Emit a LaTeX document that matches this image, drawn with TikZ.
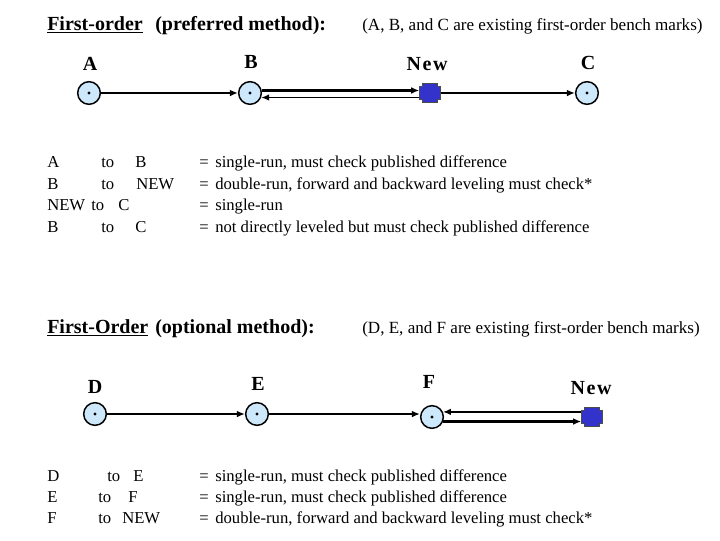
\documentclass[tikz,border=0pt]{standalone}
\usepackage{fontspec}
\setmainfont{Liberation Serif}
\usetikzlibrary{arrows.meta,calc}
\definecolor{bmfill}{RGB}{204,232,250}
\definecolor{newblue}{RGB}{51,51,204}
\begin{document}
\begin{tikzpicture}[x=0.75pt,y=-0.75pt,
  bm/.style={circle,draw=black,line width=1.1pt,fill=bmfill,minimum size=17pt,inner sep=0pt,
    path picture={\fill[black] (path picture bounding box.center) circle (1.2pt);}},
  newbm/.style={rectangle,minimum width=15.75pt,minimum height=14.25pt,inner sep=0pt},
  plusshape/.style={fill=newblue,draw=black!70,line width=0.6pt},
  hdr/.style={font=\bfseries\fontsize{15}{17}\selectfont,anchor=base west,inner sep=0pt},
  hdrr/.style={font=\fontsize{12.8}{15}\selectfont,anchor=base west,inner sep=0pt},
  lbl/.style={font=\bfseries\fontsize{15}{17}\selectfont,inner sep=0pt},
  txt/.style={font=\fontsize{12.5}{14}\selectfont,anchor=base west,inner sep=0pt},
  thinarr/.style={line width=1.2pt,-{Latex[length=6pt,width=5pt]}},
  thickarr/.style={line width=2.1pt,-{Latex[length=6pt,width=5pt]}}
]
\useasboundingbox[fill=white] (0,0) rectangle (720,540);

% ---------- Top section ----------
\node[hdr] (h1a) at (47,30) {\underline{First-order}};
\node[hdr] (h1b) at (155,30) {(preferred method):};
\node[hdrr] (h1c) at (362,30) {(A, B, and C are existing first-order bench marks)};

\node[lbl] (lA) at (90,64) {A};
\node[lbl] (lB) at (251,62) {B};
\node[lbl] (lNew) at (427,64) {N\kern1.2pt e\kern1.2pt w};
\node[lbl] (lC) at (588,63) {C};

\node[bm] (A) at (89,93) {};
\node[bm] (B) at (250,93) {};
\node[newbm] (N1) at (430,93) {};
\node[bm] (C) at (587,93) {};
\fill[plusshape,shift={(N1)}] (-10.5,-6.5) -- (-7.5,-6.5) -- (-7.5,-9.5) -- (7.5,-9.5) -- (7.5,-6.5) -- (10.5,-6.5)
  -- (10.5,6.5) -- (7.5,6.5) -- (7.5,9.5) -- (-7.5,9.5) -- (-7.5,6.5) -- (-10.5,6.5) -- cycle;

\draw[thinarr] (A) -- (B);
\draw[thickarr] (B.12) -- (B.12 -| N1.west);
\draw[thinarr] (B.-22 -| N1.west) -- (B.-22);
\draw[thinarr] (N1) -- (C);

\node[txt] (r1a) at (47,167) {A};
\node[txt] (r1b) at (101,167) {to};
\node[txt] (r1c) at (135,167) {B};
\node[txt] (r1d) at (199,167) {=};
\node[txt] (r1e) at (215,167) {single-run, must check published difference};

\node[txt] (r2a) at (47,189) {B};
\node[txt] (r2b) at (101,189) {to};
\node[txt] (r2c) at (136,189) {NEW};
\node[txt] (r2d) at (199,189) {=};
\node[txt] (r2e) at (215,189) {double-run, forward and backward leveling must check*};

\node[txt] (r3a) at (47,210) {NEW};
\node[txt] (r3b) at (91,210) {to};
\node[txt] (r3c) at (118,210) {C};
\node[txt] (r3d) at (199,210) {=};
\node[txt] (r3e) at (215,210) {single-run};

\node[txt] (r4a) at (47,232) {B};
\node[txt] (r4b) at (101,232) {to};
\node[txt] (r4c) at (135,232) {C};
\node[txt] (r4d) at (199,232) {=};
\node[txt] (r4e) at (215,232) {not directly leveled but must check published difference};

% ---------- Bottom section ----------
\node[hdr] (h2a) at (47,333) {\underline{First-Order}};
\node[hdr] (h2b) at (155,333) {(optional method):};
\node[hdrr] (h2c) at (362,333) {(D, E, and F are existing first-order bench marks)};

\node[lbl] (lD) at (95,387) {D};
\node[lbl] (lE) at (258,384) {E};
\node[lbl] (lF) at (429,382) {F};
\node[lbl] (lNew2) at (591,388) {N\kern1.2pt e\kern1.2pt w};

\node[bm] (D) at (95,414) {};
\node[bm] (E) at (257,414) {};
\node[bm] (F) at (432,417) {};
\node[newbm] (N2) at (592,417) {};
\fill[plusshape,shift={(N2)}] (-10.5,-6.5) -- (-7.5,-6.5) -- (-7.5,-9.5) -- (7.5,-9.5) -- (7.5,-6.5) -- (10.5,-6.5)
  -- (10.5,6.5) -- (7.5,6.5) -- (7.5,9.5) -- (-7.5,9.5) -- (-7.5,6.5) -- (-10.5,6.5) -- cycle;

\draw[thinarr] (D) -- (E);
\draw[thickarr] (E.east) -- (E.east -| F.west);
\draw[thickarr] (F.25 -| N2.west) -- (F.25);
\draw[thickarr] (F.-22) -- (F.-22 -| N2.west);

\node[txt] (s1a) at (47,481) {D};
\node[txt] (s1b) at (107,481) {to};
\node[txt] (s1c) at (133,481) {E};
\node[txt] (s1d) at (199,481) {=};
\node[txt] (s1e) at (215,481) {single-run, must check published difference};

\node[txt] (s2a) at (47,502) {E};
\node[txt] (s2b) at (98,502) {to};
\node[txt] (s2c) at (128,502) {F};
\node[txt] (s2d) at (199,502) {=};
\node[txt] (s2e) at (215,502) {single-run, must check published difference};

\node[txt] (s3a) at (47,523) {F};
\node[txt] (s3b) at (98,523) {to};
\node[txt] (s3c) at (122,523) {NEW};
\node[txt] (s3d) at (199,523) {=};
\node[txt] (s3e) at (215,523) {double-run, forward and backward leveling must check*};
\end{tikzpicture}
\end{document}
